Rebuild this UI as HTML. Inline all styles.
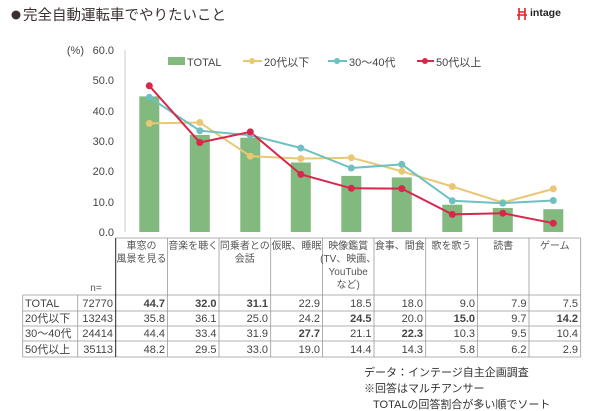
<!DOCTYPE html>
<html><head><meta charset="utf-8"><style>
body{margin:0;background:#fff;}
svg{display:block;font-family:"Liberation Sans","Noto Sans CJK JP",sans-serif;}
</style></head><body>
<svg width="600" height="411" viewBox="0 0 600 411" xmlns="http://www.w3.org/2000/svg">
<circle cx="16" cy="15" r="4.5" fill="#3a3030"/>
<text x="23" y="20" font-size="14.5" fill="#3a3030">完全自動運転車でやりたいこと</text>
<g stroke="#e0202a" stroke-width="1.6" fill="none"><path d="M519 8v12M525 8v12M519 12h6M517 15h10"/></g>
<text x="530" y="16" font-size="10.5" font-weight="bold" fill="#222">intage</text>

<g font-size="11" fill="#444" text-anchor="end">
<text x="84" y="54">(%)</text>
<text x="114" y="54">60.0</text><text x="114" y="84">50.0</text><text x="114" y="115">40.0</text>
<text x="114" y="145">30.0</text><text x="114" y="175">20.0</text><text x="114" y="206">10.0</text><text x="114" y="236">0.0</text>
</g>
<line x1="125" y1="50" x2="125" y2="232" stroke="#ccc"/>

<g fill="#82b97e">
<rect x="139.3" y="96.4" width="20" height="135.6"/><rect x="189.8" y="134.9" width="20" height="97.1"/>
<rect x="240.3" y="137.7" width="20" height="94.3"/><rect x="290.8" y="162.5" width="20" height="69.5"/>
<rect x="341.3" y="175.9" width="20" height="56.1"/><rect x="391.8" y="177.4" width="20" height="54.6"/>
<rect x="442.3" y="204.7" width="20" height="27.3"/><rect x="492.8" y="208" width="20" height="24"/>
<rect x="543.3" y="209.2" width="20" height="22.8"/>
</g>
<g fill="none" stroke-width="2">
<polyline stroke="#e8c874" points="149.3,123.4 199.8,122.5 250.3,156.2 300.8,158.6 351.3,157.7 401.8,171.3 452.3,186.5 502.8,202.6 553.3,188.9"/>
<polyline stroke="#6fc0c0" points="149.3,97.3 199.8,130.7 250.3,135.2 300.8,148 351.3,168 401.8,164.4 452.3,200.8 502.8,203.2 553.3,200.5"/>
<polyline stroke="#d9264b" points="149.3,85.8 199.8,142.5 250.3,131.9 300.8,174.4 351.3,188.3 401.8,188.6 452.3,214.4 502.8,213.2 553.3,223.2"/>
</g>
<g fill="#e8c874"><circle cx="149.3" cy="123.4" r="3.5"/><circle cx="199.8" cy="122.5" r="3.5"/><circle cx="250.3" cy="156.2" r="3.5"/><circle cx="300.8" cy="158.6" r="3.5"/><circle cx="351.3" cy="157.7" r="3.5"/><circle cx="401.8" cy="171.3" r="3.5"/><circle cx="452.3" cy="186.5" r="3.5"/><circle cx="502.8" cy="202.6" r="3.5"/><circle cx="553.3" cy="188.9" r="3.5"/></g>
<g fill="#6fc0c0"><circle cx="149.3" cy="97.3" r="3.5"/><circle cx="199.8" cy="130.7" r="3.5"/><circle cx="250.3" cy="135.2" r="3.5"/><circle cx="300.8" cy="148" r="3.5"/><circle cx="351.3" cy="168" r="3.5"/><circle cx="401.8" cy="164.4" r="3.5"/><circle cx="452.3" cy="200.8" r="3.5"/><circle cx="502.8" cy="203.2" r="3.5"/><circle cx="553.3" cy="200.5" r="3.5"/></g>
<g fill="#d9264b"><circle cx="149.3" cy="85.8" r="3.5"/><circle cx="199.8" cy="142.5" r="3.5"/><circle cx="250.3" cy="131.9" r="3.5"/><circle cx="300.8" cy="174.4" r="3.5"/><circle cx="351.3" cy="188.3" r="3.5"/><circle cx="401.8" cy="188.6" r="3.5"/><circle cx="452.3" cy="214.4" r="3.5"/><circle cx="502.8" cy="213.2" r="3.5"/><circle cx="553.3" cy="223.2" r="3.5"/></g>

<g font-size="11" fill="#444">
<rect x="168" y="57" width="17" height="8" fill="#82b97e"/><text x="187" y="66">TOTAL</text>
<line x1="243" y1="61" x2="262" y2="61" stroke="#e8c874" stroke-width="2"/><circle cx="252" cy="61" r="3" fill="#e8c874"/><text x="264" y="66">20代以下</text>
<line x1="328" y1="61" x2="347" y2="61" stroke="#6fc0c0" stroke-width="2"/><circle cx="337" cy="61" r="3" fill="#6fc0c0"/><text x="349" y="66">30～40代</text>
<line x1="417" y1="61" x2="434" y2="61" stroke="#d9264b" stroke-width="2"/><circle cx="425" cy="61" r="3" fill="#d9264b"/><text x="436" y="66">50代以上</text>
</g>

<g stroke="#999" stroke-width="0.8">
<line x1="115.7" y1="238" x2="580.7" y2="238"/>
<line x1="22.7" y1="295" x2="580.7" y2="295"/>
<line x1="22.7" y1="311" x2="580.7" y2="311"/>
<line x1="22.7" y1="326" x2="580.7" y2="326"/>
<line x1="22.7" y1="341" x2="580.7" y2="341"/>
<line x1="22.7" y1="357" x2="580.7" y2="357"/>
<line x1="22.7" y1="295" x2="22.7" y2="357"/>
<line x1="77.7" y1="295" x2="77.7" y2="357"/>
<line x1="167.4" y1="238" x2="167.4" y2="357"/><line x1="219" y1="238" x2="219" y2="357"/>
<line x1="270.7" y1="238" x2="270.7" y2="357"/><line x1="322.4" y1="238" x2="322.4" y2="357"/>
<line x1="374" y1="238" x2="374" y2="357"/><line x1="425.7" y1="238" x2="425.7" y2="357"/>
<line x1="477.4" y1="238" x2="477.4" y2="357"/><line x1="529" y1="238" x2="529" y2="357"/>
<line x1="580.7" y1="238" x2="580.7" y2="357"/>
</g>
<line x1="115.7" y1="238" x2="115.7" y2="357" stroke="#222" stroke-width="1"/>
<g font-size="10" fill="#555" text-anchor="middle">
<text x="141.5" y="249">車窓の</text><text x="141.5" y="262">風景を見る</text>
<text x="193.2" y="249">音楽を聴く</text>
<text x="244.8" y="249">同乗者との</text><text x="244.8" y="262">会話</text>
<text x="296.5" y="249">仮眠、睡眠</text>
<text x="348.2" y="249">映像鑑賞</text><text x="348.2" y="262">(TV、映画、</text><text x="348.2" y="275">YouTube</text><text x="348.2" y="288">など)</text>
<text x="399.8" y="249">食事、間食</text>
<text x="451.5" y="249">歌を歌う</text>
<text x="503.2" y="249">読書</text>
<text x="554.8" y="249">ゲーム</text>
<text x="96" y="291">n=</text>
</g>
<g font-size="11" fill="#444">
<text x="25" y="307">TOTAL</text><text x="25" y="322">20代以下</text><text x="25" y="337">30～40代</text><text x="25" y="353">50代以上</text>
</g>
<g font-size="11" fill="#444" text-anchor="end">
<text x="113" y="307">72770</text><text x="113" y="322">13243</text><text x="113" y="337">24414</text><text x="113" y="353">35113</text>
<g transform="translate(0,307)"><text x="165" font-weight="bold">44.7</text><text x="216.5" font-weight="bold">32.0</text><text x="268" font-weight="bold">31.1</text><text x="320">22.9</text><text x="371.5">18.5</text><text x="423">18.0</text><text x="475">9.0</text><text x="526.5">7.9</text><text x="578">7.5</text></g>
<g transform="translate(0,322)"><text x="165">35.8</text><text x="216.5">36.1</text><text x="268">25.0</text><text x="320">24.2</text><text x="371.5" font-weight="bold">24.5</text><text x="423">20.0</text><text x="475" font-weight="bold">15.0</text><text x="526.5">9.7</text><text x="578" font-weight="bold">14.2</text></g>
<g transform="translate(0,337)"><text x="165">44.4</text><text x="216.5">33.4</text><text x="268">31.9</text><text x="320" font-weight="bold">27.7</text><text x="371.5">21.1</text><text x="423" font-weight="bold">22.3</text><text x="475">10.3</text><text x="526.5">9.5</text><text x="578">10.4</text></g>
<g transform="translate(0,353)"><text x="165">48.2</text><text x="216.5">29.5</text><text x="268">33.0</text><text x="320">19.0</text><text x="371.5">14.4</text><text x="423">14.3</text><text x="475">5.8</text><text x="526.5">6.2</text><text x="578">2.9</text></g>
</g>
<g font-size="11" fill="#333">
<text x="364" y="376">データ：インテージ自主企画調査</text>
<text x="364" y="392">※回答はマルチアンサー</text>
<text x="373" y="408">TOTALの回答割合が多い順でソート</text>
</g>
</svg>
</body></html>
